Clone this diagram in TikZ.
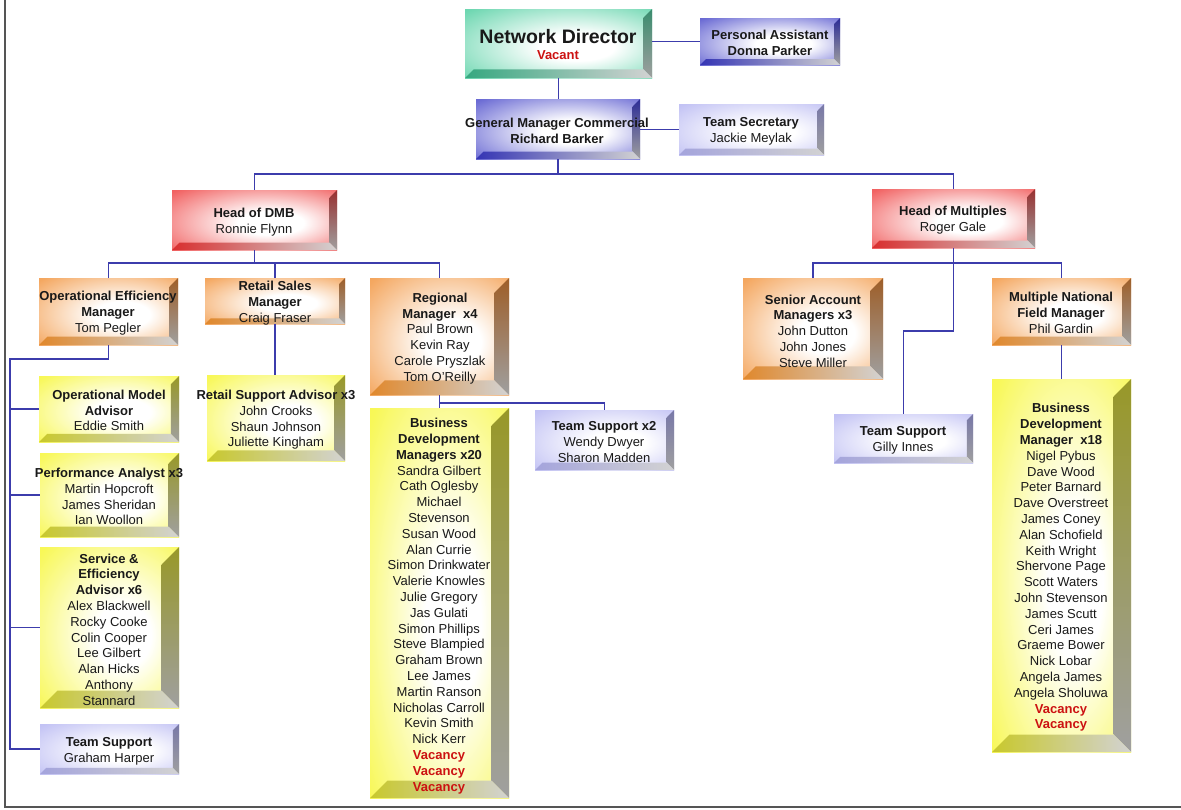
\documentclass[tikz,border=0pt]{standalone}
\usepackage{fontspec}
\setmainfont{Liberation Sans}
\usetikzlibrary{calc}

\definecolor{greenF}{HTML}{38C894}\definecolor{greenD}{HTML}{3A8C6E}\definecolor{greenL}{HTML}{36A880}
\definecolor{blueF}{HTML}{3434C4}\definecolor{blueD}{HTML}{2C2C96}\definecolor{blueL}{HTML}{3434B4}
\definecolor{lavF}{HTML}{ACACF0}\definecolor{lavD}{HTML}{7878A8}\definecolor{lavL}{HTML}{A4A4DC}
\definecolor{redF}{HTML}{EC2828}\definecolor{redD}{HTML}{983030}\definecolor{redL}{HTML}{D82E2E}
\definecolor{orangeF}{HTML}{F08624}\definecolor{orangeD}{HTML}{9E5E28}\definecolor{orangeL}{HTML}{E0882C}
\definecolor{yellowF}{HTML}{F5F518}\definecolor{yellowD}{HTML}{989828}\definecolor{yellowL}{HTML}{C8C82C}
\definecolor{connc}{HTML}{3C3CAC}
\definecolor{vac}{HTML}{CC1111}
\definecolor{framec}{HTML}{555555}

\pgfdeclareradialshading{face-green}{\pgfpoint{6bp}{-3bp}}{color(0bp)=(white); color(10bp)=(white); color(36bp)=(greenF!72!white); color(56bp)=(greenF)}
\pgfdeclareradialshading{face-blue}{\pgfpoint{6bp}{-3bp}}{color(0bp)=(white); color(10bp)=(white); color(36bp)=(blueF!72!white); color(56bp)=(blueF)}
\pgfdeclareradialshading{face-lav}{\pgfpoint{6bp}{-3bp}}{color(0bp)=(white); color(10bp)=(white); color(36bp)=(lavF!72!white); color(56bp)=(lavF)}
\pgfdeclareradialshading{face-red}{\pgfpoint{6bp}{-3bp}}{color(0bp)=(white); color(10bp)=(white); color(36bp)=(redF!72!white); color(56bp)=(redF)}
\pgfdeclareradialshading{face-orange}{\pgfpoint{6bp}{-3bp}}{color(0bp)=(white); color(10bp)=(white); color(36bp)=(orangeF!72!white); color(56bp)=(orangeF)}
\pgfdeclareradialshading{face-yellow}{\pgfpoint{6bp}{-3bp}}{color(0bp)=(white); color(10bp)=(white); color(36bp)=(yellowF!72!white); color(56bp)=(yellowF)}

\tikzset{
  boxshape/.style={rectangle, inner sep=0pt, outer sep=0pt},
  txt/.style={align=center, inner sep=0pt, text=black!90, yshift=-1.5pt, font=\fontsize{13}{15.8}\selectfont},
  conn/.style={draw=connc, line width=1.4pt},
}

% name, x0, y0, x1, y1, colour
\newcommand\obox[6]{%
  \pgfmathsetmacro\bw{0.125*min(#4-#2,#5-#3)}%
  \shade[shading=face-#6] (#2,#3) rectangle (#4,#5);
  \shade[top color=#6D, bottom color=gray!75] (#4,#3) -- (#4,#5) -- ({#4-\bw},{#5-\bw}) -- ({#4-\bw},{#3+\bw}) -- cycle;
  \shade[left color=#6L, right color=gray!35] (#2,#5) -- (#4,#5) -- ({#4-\bw},{#5-\bw}) -- ({#2+\bw},{#5-\bw}) -- cycle;
  \node[boxshape, minimum width={(#4-#2)*1pt}, minimum height={(#5-#3)*1pt}] (#1) at ({(#2+#4)/2},{(#3+#5)/2}) {};
}
\newcommand\vac{\textcolor{vac}{\textbf{Vacancy}}}

\begin{document}
\begin{tikzpicture}[x=1pt,y=-1pt]
\useasboundingbox (0,0) rectangle (1181,809);
\fill[white] (0,0) rectangle (1181,809);
\draw[framec, line width=1.2pt] (5,0) -- (5,807) -- (1181,807);

% boxes
\obox{nd}{465}{9}{652}{78}{green}
\obox{pa}{700}{18}{840}{65}{blue}
\obox{gm}{476}{99}{640}{159}{blue}
\obox{ts}{679}{104}{824}{155}{lav}
\obox{dmb}{172}{190}{337}{250}{red}
\obox{hom}{872}{189}{1035}{248}{red}
\obox{oem}{39}{278}{178}{345}{orange}
\obox{rsm}{205}{278}{345}{324}{orange}
\obox{rm}{370}{278}{509}{395}{orange}
\obox{sam}{743}{278}{883}{379}{orange}
\obox{mnfm}{992}{278}{1131}{345}{orange}
\obox{rsa}{207}{375}{345}{461}{yellow}
\obox{oma}{39}{376}{179}{442}{yellow}
\obox{pan}{40}{453}{179}{537}{yellow}
\obox{sea}{40}{547}{179}{708}{yellow}
\obox{tsg}{40}{724}{179}{774}{lav}
\obox{bdma}{370}{408}{509}{798}{yellow}
\obox{tsb}{535}{410}{674}{470}{lav}
\obox{tsc}{834}{414}{973}{463}{lav}
\obox{bdmb}{992}{379}{1131}{752}{yellow}

% connectors
\draw[conn] (nd.east |- pa.west) -- (pa.west);
\draw[conn] (nd.south) -- (nd.south |- gm.north);
\draw[conn] (gm.east |- ts.west) -- (ts.west);
\coordinate (b1) at (558,174);
\draw[conn] (gm.south) -- (gm.south |- b1);
\draw[conn] (dmb.north) |- (b1) -| (hom.north);
\coordinate (b2) at (254.5,263);
\draw[conn] (dmb.south) -- (b2);
\draw[conn] (oem.north) |- (b2) -| (rm.north);
\draw[conn] (rsm.north) -- (rsm.north |- b2);
\draw[conn] (rsm.south) -- (rsm.south |- rsa.north);
\coordinate (b3) at (10,359);
\draw[conn] (oem.south) |- (b3) |- (tsg.west);
\draw[conn] (b3) |- (oma.west);
\draw[conn] (b3) |- (pan.west);
\draw[conn] (b3) |- (sea.west);
\coordinate (b4) at (439.5,403);
\draw[conn] (rm.south) -- (b4) -| (tsb.north);
\draw[conn] (b4) -- (bdma.north);
\coordinate (b5) at (953.5,263);
\coordinate (b6) at (953.5,331);
\draw[conn] (hom.south) -- (b5);
\draw[conn] (sam.north) |- (b5) -| (mnfm.north);
\draw[conn] (b5) -- (b6) -| (tsc.north);
\draw[conn] (mnfm.south) -- (bdmb.north);

% texts
\node[txt, font=\fontsize{19.5}{21}\selectfont\bfseries] (t-nd) at (558,35) {Network Director};
\node[txt, text=vac, font=\fontsize{13}{15.8}\selectfont\bfseries] (t-nd2) at (558,54) {Vacant};
\node[txt] (t-pa) at (770,41.5) {\textbf{Personal Assistant}\\\textbf{Donna Parker}};
\node[txt] (t-gm) at (557,129.5) {\textbf{General Manager Commercial}\\\textbf{Richard Barker}};
\node[txt] (t-ts) at (751,129.5) {\textbf{Team Secretary}\\Jackie Meylak};
\node[txt] (t-dmb) at (254,220.5) {\textbf{Head of DMB}\\Ronnie Flynn};
\node[txt] (t-hom) at (953,219) {\textbf{Head of Multiples}\\Roger Gale};
\node[txt] (t-oem) at (108,311.7) {\textbf{Operational Efficiency}\\\textbf{Manager}\\Tom Pegler};
\node[txt] (t-rsm) at (275,301.7) {\textbf{Retail Sales}\\\textbf{Manager}\\Craig Fraser};
\node[txt] (t-rm) at (440,337) {\textbf{Regional}\\\textbf{Manager~~x4}\\Paul Brown\\Kevin Ray\\Carole Pryszlak\\Tom O’Reilly};
\node[txt] (t-sam) at (813,329.5) {\textbf{Senior Account}\\\textbf{Managers x3}\\John Dutton\\John Jones\\Steve Miller};
\node[txt] (t-mnfm) at (1061,311.5) {\textbf{Multiple National}\\\textbf{Field Manager}\\Phil Gardin};
\node[txt] (t-rsa) at (276,418.3) {\textbf{Retail Support Advisor x3}\\John Crooks\\Shaun Johnson\\Juliette Kingham};
\node[txt] (t-oma) at (109,409) {\textbf{Operational Model}\\\textbf{Advisor}\\Eddie Smith};
\node[txt] (t-pan) at (109,495) {\textbf{Performance Analyst x3}\\Martin Hopcroft\\James Sheridan\\Ian Woollon};
\node[txt] (t-sea) at (109,628) {\textbf{Service \&}\\\textbf{Efficiency}\\\textbf{Advisor x6}\\Alex Blackwell\\Rocky Cooke\\Colin Cooper\\Lee Gilbert\\Alan Hicks\\Anthony\\Stannard};
\node[txt] (t-tsg) at (109,749.5) {\textbf{Team Support}\\Graham Harper};
\node[txt] (t-bdma) at (439,604.5) {\textbf{Business}\\\textbf{Development}\\\textbf{Managers x20}\\Sandra Gilbert\\Cath Oglesby\\Michael\\Stevenson\\Susan Wood\\Alan Currie\\Simon Drinkwater\\Valerie Knowles\\Julie Gregory\\Jas Gulati\\Simon Phillips\\Steve Blampied\\Graham Brown\\Lee James\\Martin Ranson\\Nicholas Carroll\\Kevin Smith\\Nick Kerr\\\vac\\\vac\\\vac};
\node[txt] (t-tsb) at (604,440.7) {\textbf{Team Support x2}\\Wendy Dwyer\\Sharon Madden};
\node[txt] (t-tsc) at (903,439) {\textbf{Team Support}\\Gilly Innes};
\node[txt] (t-bdmb) at (1061,566) {\textbf{Business}\\\textbf{Development}\\\textbf{Manager~~x18}\\Nigel Pybus\\Dave Wood\\Peter Barnard\\Dave Overstreet\\James Coney\\Alan Schofield\\Keith Wright\\Shervone Page\\Scott Waters\\John Stevenson\\James Scutt\\Ceri James\\Graeme Bower\\Nick Lobar\\Angela James\\Angela Sholuwa\\\vac\\\vac};
\end{tikzpicture}
\end{document}
